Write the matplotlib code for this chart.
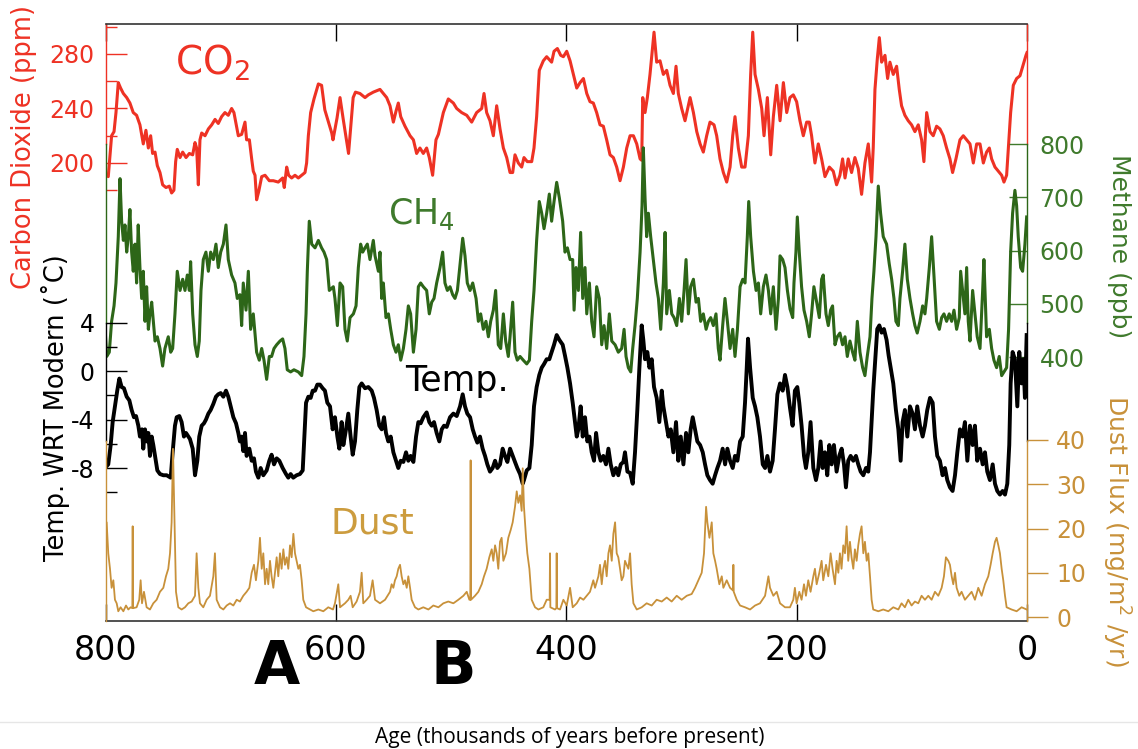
import numpy as np
import matplotlib
matplotlib.use("Agg")
import matplotlib.pyplot as plt
from matplotlib.lines import Line2D

plt.rcParams["axes.unicode_minus"] = False

# ==========================================================
# data (age in kyr before present)
# ==========================================================
co2_age = [800.5, 797.6, 794.7, 792.6, 790.9, 788.9, 786.9, 784.5, 781.6, 778.8, 775.9, 773.0, 770.1, 767.2, 764.9, 762.8,
           760.8, 759.1, 757.0, 755.0, 752.7, 750.4, 747.5, 744.6, 742.6, 740.6, 739.1, 737.7, 735.3, 733.0, 730.1, 727.2,
           724.3, 722.3, 720.9, 719.4, 718.0, 716.5, 713.6, 710.7, 707.8, 704.9, 702.1, 699.2, 696.3, 693.4, 690.5, 688.5,
           686.7, 684.7, 681.8, 678.9, 677.5, 675.1, 673.1, 671.7, 670.2, 668.8, 667.0, 664.4, 661.5, 657.8, 654.3, 650.0,
           646.2, 644.8, 642.7, 641.0, 638.4, 635.5, 632.6, 629.7, 626.8, 625.4, 623.9, 621.9, 619.0, 615.2, 612.4, 609.6,
           603.6, 602.5, 599.0, 596.4, 593.6, 589.0, 585.0, 583.0, 579.1, 574.7, 571.8, 567.5, 561.7, 558.8, 555.9, 553.0,
           550.1, 547.8, 545.8, 543.7, 540.0, 535.6, 532.7, 529.9, 527.0, 524.1, 521.2, 518.9, 516.0, 513.1, 511.0, 506.7,
           502.4, 498.0, 495.1, 490.8, 486.4, 482.1, 477.8, 473.4, 471.4, 469.1, 466.2, 463.3, 460.4, 457.5, 454.6, 451.7,
           448.8, 446.5, 444.5, 441.6, 438.7, 436.7, 433.8, 430.0, 428.0, 425.7, 423.4, 419.9, 417.0, 412.7, 410.6, 407.7,
           404.8, 402.5, 399.6, 396.7, 393.8, 390.9, 388.0, 385.1, 382.2, 379.4, 376.5, 373.6, 370.7, 367.8, 364.9, 362.0,
           359.1, 356.2, 353.3, 350.4, 347.5, 344.6, 341.7, 338.8, 335.9, 334.5, 333.6, 331.6, 329.6, 327.3, 323.8, 321.5,
           318.6, 315.7, 312.8, 309.9, 307.0, 304.7, 302.7, 299.8, 296.9, 292.5, 289.6, 286.7, 283.8, 281.0, 278.1, 275.2,
           271.7, 269.4, 266.5, 263.6, 260.7, 257.8, 255.5, 253.5, 250.6, 247.7, 244.8, 241.9, 239.9, 238.1, 236.1, 233.2,
           230.3, 228.3, 225.4, 222.5, 220.2, 217.3, 214.4, 211.5, 208.6, 205.8, 202.9, 200.0, 197.1, 194.2, 191.3, 189.0,
           187.0, 184.1, 181.2, 178.3, 175.4, 171.6, 168.2, 165.3, 162.4, 160.1, 158.0, 155.2, 152.3, 149.4, 146.5, 143.6,
           140.7, 137.8, 134.9, 133.5, 132.0, 130.0, 128.2, 126.2, 123.3, 121.0, 119.0, 116.1, 113.2, 110.9, 108.9, 106.0,
           103.1, 100.2, 97.3, 94.4, 91.5, 89.5, 87.1, 84.2, 81.4, 78.5, 75.6, 72.7, 69.8, 66.9, 64.6, 61.7,
           58.2, 55.3, 52.4, 49.5, 46.6, 43.7, 40.8, 37.9, 35.1, 32.7, 30.7, 27.8, 24.9, 22.0, 20.0, 17.7,
           16.2, 14.2, 11.9, 9.0, 6.1, 4.7, 3.2, 0.9, 0.0]
co2_ppm = [193, 190, 220, 223, 237, 259, 255, 251, 248, 244, 237, 235, 228, 214, 224, 211,
           220, 207, 208, 198, 193, 184, 182, 183, 178, 180, 201, 210, 204, 208, 204, 207,
           206, 215, 211, 184, 217, 222, 220, 225, 228, 232, 229, 234, 237, 235, 240, 237,
           229, 220, 221, 230, 217, 217, 203, 194, 191, 173, 179, 190, 191, 187, 187, 186,
           189, 182, 197, 191, 189, 191, 189, 191, 193, 200, 220, 237, 247, 258, 257, 239,
           222, 217, 233, 248, 232, 207, 248, 252, 251, 248, 250, 252, 254, 251, 248, 242,
           230, 238, 244, 234, 227, 220, 217, 207, 211, 207, 211, 204, 191, 217, 221, 237,
           247, 244, 240, 237, 235, 230, 237, 240, 251, 237, 231, 220, 242, 225, 211, 204,
           193, 193, 206, 200, 197, 204, 201, 201, 211, 234, 268, 275, 278, 274, 282, 284,
           279, 278, 282, 275, 265, 255, 259, 262, 251, 245, 244, 237, 228, 227, 217, 206,
           204, 197, 187, 197, 211, 220, 220, 214, 203, 202, 248, 237, 248, 265, 296, 274,
           275, 265, 268, 257, 251, 271, 251, 240, 231, 248, 237, 223, 214, 208, 220, 230,
           228, 220, 203, 193, 186, 197, 220, 234, 211, 197, 197, 220, 265, 296, 265, 254,
           240, 220, 248, 206, 234, 257, 231, 259, 237, 248, 250, 245, 231, 220, 230, 230,
           220, 200, 214, 203, 190, 197, 194, 184, 191, 203, 189, 203, 193, 204, 196, 177,
           200, 214, 186, 211, 254, 276, 292, 274, 279, 262, 274, 265, 271, 254, 242, 235,
           231, 228, 223, 228, 217, 201, 237, 223, 220, 227, 225, 220, 211, 203, 193, 203,
           217, 220, 217, 214, 200, 214, 214, 200, 208, 211, 203, 197, 194, 191, 186, 191,
           211, 237, 257, 262, 264, 268, 272, 279, 281]

ch4_age = [800.5, 799.0, 796.7, 794.7, 792.6, 790.9, 788.9, 787.4, 786.0, 784.5, 783.1, 781.6, 780.2, 778.8, 777.3, 775.9,
           774.4, 773.0, 771.6, 770.1, 768.6, 767.2, 765.7, 764.3, 762.8, 761.4, 759.9, 758.5, 757.0, 755.0, 752.7, 750.4,
           748.4, 745.5, 743.4, 741.7, 739.7, 737.7, 735.3, 733.0, 731.0, 729.0, 727.2, 726.1, 724.3, 722.3, 720.3, 718.6,
           717.1, 715.1, 712.8, 710.7, 708.7, 706.4, 704.1, 702.1, 700.0, 697.7, 695.4, 693.4, 690.5, 687.6, 685.6, 683.3,
           681.8, 680.4, 678.0, 676.0, 674.0, 671.7, 668.8, 666.5, 664.4, 662.4, 660.1, 657.8, 655.8, 653.7, 651.4, 648.5,
           646.2, 644.2, 642.2, 639.3, 636.4, 632.6, 629.7, 627.7, 625.9, 624.8, 623.1, 621.0, 618.1, 615.2, 612.4, 610.3,
           608.0, 605.7, 602.2, 600.8, 598.7, 596.4, 594.1, 592.1, 590.1, 587.7, 584.8, 582.5, 580.5, 578.5, 576.7, 574.7,
           572.7, 570.4, 567.5, 566.0, 563.1, 561.7, 560.2, 558.8, 556.5, 554.4, 552.4, 550.1, 547.8, 545.8, 543.7, 541.4,
           539.1, 537.1, 535.1, 532.7, 530.4, 528.4, 526.4, 524.1, 521.2, 518.9, 516.8, 514.8, 512.5, 509.6, 507.3, 505.3,
           503.2, 500.9, 498.6, 496.6, 494.5, 492.2, 489.9, 487.9, 485.9, 483.5, 481.2, 478.3, 476.3, 474.3, 472.0, 469.7,
           467.6, 465.6, 463.3, 461.3, 459.0, 456.9, 454.6, 452.6, 450.3, 448.8, 446.5, 444.5, 442.5, 440.1, 437.3, 434.3,
           432.0, 430.0, 428.0, 425.7, 423.4, 421.3, 419.3, 417.0, 414.7, 412.7, 410.6, 408.3, 406.0, 403.1, 401.1, 399.0,
           396.7, 394.4, 393.2, 391.5, 389.5, 387.5, 385.7, 383.7, 382.2, 379.9, 377.9, 375.9, 373.6, 371.3, 369.2, 367.2,
           364.9, 362.6, 360.5, 357.6, 354.8, 351.9, 349.8, 348.1, 346.1, 344.0, 342.3, 340.3, 338.3, 335.9, 334.2, 333.1,
           331.6, 330.2, 328.7, 326.7, 324.4, 322.1, 320.0, 318.0, 315.7, 314.2, 312.8, 310.5, 308.4, 306.4, 304.1, 301.8,
           299.8, 297.7, 296.0, 294.0, 292.0, 289.6, 287.3, 285.3, 283.3, 281.0, 278.6, 276.6, 274.6, 272.3, 270.0, 268.0,
           266.5, 264.2, 262.2, 260.1, 257.8, 255.5, 253.5, 251.4, 249.1, 246.8, 244.8, 242.8, 241.6, 239.9, 237.5, 235.2,
           233.2, 231.2, 228.9, 226.6, 224.5, 222.5, 220.2, 217.9, 215.8, 214.4, 212.1, 210.1, 208.0, 205.7, 203.4, 202.3,
           200.6, 199.4, 197.7, 195.7, 193.6, 191.3, 189.0, 187.0, 185.0, 182.6, 180.3, 178.3, 176.9, 174.5, 172.5, 170.5,
           168.8, 166.7, 164.7, 162.4, 160.1, 158.0, 156.0, 153.7, 151.4, 149.4, 147.3, 145.0, 142.7, 140.7, 138.7, 136.3,
           134.6, 132.9, 131.1, 129.1, 127.1, 124.8, 121.9, 119.6, 117.5, 115.5, 113.8, 111.7, 110.3, 108.0, 106.0, 103.9,
           101.6, 99.3, 97.3, 95.3, 92.9, 90.6, 88.6, 87.1, 84.8, 82.8, 80.8, 78.5, 76.1, 74.1, 72.1, 69.8,
           67.5, 65.4, 63.4, 61.1, 58.8, 57.6, 55.9, 53.9, 52.4, 51.0, 49.5, 47.2, 45.2, 43.2, 40.8, 38.5,
           37.4, 35.1, 32.7, 30.7, 28.7, 26.4, 24.1, 22.0, 20.0, 17.7, 16.0, 14.2, 12.5, 10.5, 9.0, 7.6,
           5.5, 3.8, 1.8, 0.3]
ch4_ppb = [459, 401, 409, 467, 496, 539, 626, 735, 655, 619, 648, 597, 626, 677, 597, 561,
           612, 539, 648, 568, 510, 561, 467, 532, 452, 481, 503, 467, 430, 438, 416, 383,
           416, 438, 409, 416, 481, 561, 525, 546, 525, 554, 525, 579, 481, 423, 401, 430,
           525, 583, 597, 561, 597, 583, 612, 568, 597, 612, 648, 583, 554, 539, 510, 517,
           459, 539, 488, 561, 452, 481, 409, 394, 416, 394, 358, 401, 401, 416, 423, 430,
           434, 416, 376, 372, 376, 372, 365, 401, 481, 561, 655, 612, 605, 619, 605, 597,
           583, 525, 532, 510, 459, 539, 532, 452, 430, 474, 481, 496, 568, 612, 597, 605,
           612, 583, 619, 590, 561, 597, 510, 539, 474, 481, 452, 423, 409, 423, 394, 416,
           452, 496, 481, 409, 452, 532, 539, 532, 525, 481, 503, 510, 539, 568, 597, 539,
           525, 532, 517, 510, 525, 575, 623, 590, 539, 525, 539, 510, 467, 481, 452, 467,
           438, 467, 488, 525, 423, 416, 481, 430, 401, 438, 503, 409, 394, 401, 394, 387,
           394, 467, 525, 619, 692, 670, 641, 670, 706, 655, 692, 728, 699, 655, 597, 605,
           583, 583, 488, 568, 525, 634, 510, 568, 481, 539, 467, 438, 532, 510, 423, 459,
           416, 481, 430, 423, 409, 416, 452, 401, 380, 372, 416, 459, 510, 597, 684, 793,
           699, 626, 670, 626, 583, 539, 510, 452, 539, 634, 481, 525, 481, 474, 459, 510,
           467, 525, 583, 481, 532, 546, 503, 510, 467, 481, 452, 467, 474, 459, 481, 416,
           394, 459, 510, 467, 416, 452, 401, 452, 532, 546, 539, 626, 692, 626, 561, 525,
           539, 481, 532, 554, 525, 481, 532, 452, 510, 590, 583, 568, 525, 490, 474, 539,
           597, 663, 597, 532, 488, 467, 438, 481, 532, 503, 474, 546, 554, 481, 459, 488,
           496, 423, 438, 445, 423, 438, 401, 430, 409, 394, 467, 409, 380, 365, 401, 438,
           510, 561, 626, 721, 670, 626, 612, 575, 546, 510, 467, 459, 510, 561, 612, 546,
           510, 481, 459, 445, 467, 496, 481, 510, 568, 626, 554, 467, 452, 474, 481, 467,
           481, 467, 488, 452, 474, 561, 525, 481, 568, 467, 430, 525, 481, 438, 416, 525,
           583, 438, 452, 416, 394, 380, 401, 365, 372, 380, 452, 597, 670, 713, 684, 626,
           568, 561, 612, 663]

temp_age = [800.5, 797.6, 795.5, 793.8, 791.8, 789.8, 788.0, 786.0, 784.0, 781.6, 779.3, 777.3, 775.3, 773.5, 771.5, 770.1,
            768.3, 767.2, 765.7, 764.3, 762.8, 761.4, 759.9, 758.5, 757.0, 755.0, 752.7, 749.8, 746.9, 743.4, 741.7, 739.7,
            738.2, 735.9, 733.9, 731.9, 730.1, 728.1, 726.7, 724.3, 722.3, 720.3, 718.6, 716.5, 714.5, 712.8, 710.7, 708.7,
            706.4, 704.1, 702.1, 700.0, 697.7, 695.4, 693.4, 691.3, 689.0, 686.7, 684.7, 683.3, 681.8, 680.4, 678.9, 677.5,
            675.1, 673.1, 671.1, 669.4, 667.3, 665.3, 663.0, 660.1, 657.8, 655.8, 653.7, 651.4, 649.1, 646.2, 643.3, 641.3,
            639.3, 637.0, 634.1, 631.2, 628.8, 627.7, 625.9, 623.9, 621.9, 620.1, 618.1, 616.1, 613.8, 611.5, 609.5, 607.4,
            605.1, 602.8, 600.8, 598.7, 597.0, 595.0, 593.5, 591.2, 589.2, 587.2, 585.4, 583.4, 581.4, 579.6, 577.6, 574.7,
            571.8, 568.9, 566.9, 564.6, 562.3, 560.2, 558.2, 556.5, 554.5, 552.4, 550.1, 547.8, 545.8, 543.7, 541.4, 539.1,
            537.1, 535.1, 532.7, 530.4, 528.4, 526.4, 524.1, 521.2, 518.9, 516.8, 514.8, 512.5, 510.2, 508.1, 506.1, 503.8,
            500.9, 498.0, 495.1, 492.2, 489.9, 487.9, 485.9, 483.5, 481.2, 479.2, 477.2, 474.9, 472.6, 470.5, 468.5, 466.2,
            463.9, 461.8, 459.8, 457.5, 455.2, 453.2, 451.1, 448.8, 446.5, 444.5, 442.5, 440.1, 437.8, 436.7, 434.3, 432.0,
            430.0, 428.0, 425.7, 423.4, 421.3, 419.3, 417.0, 414.7, 412.7, 410.6, 408.3, 406.0, 403.1, 401.1, 399.0, 396.7,
            394.4, 392.4, 390.9, 389.5, 387.5, 385.7, 383.7, 381.7, 379.9, 377.9, 375.9, 374.1, 372.1, 370.1, 367.8, 365.5,
            363.4, 361.4, 359.1, 356.8, 354.8, 352.7, 350.4, 349.0, 346.9, 344.6, 342.3, 340.3, 338.3, 336.5, 334.5, 333.1,
            331.6, 329.6, 327.8, 325.8, 323.8, 321.5, 319.2, 317.1, 315.7, 313.4, 311.3, 309.3, 307.0, 304.7, 302.7, 300.6,
            298.3, 296.0, 294.0, 292.0, 290.2, 288.2, 286.2, 283.8, 281.5, 279.5, 277.5, 275.2, 272.9, 270.8, 268.8, 266.5,
            264.2, 262.1, 260.1, 257.8, 255.5, 253.5, 251.4, 249.1, 246.8, 244.8, 243.3, 242.2, 240.4, 238.1, 236.1, 234.1,
            231.8, 229.4, 227.4, 225.4, 223.1, 220.8, 218.8, 216.7, 214.4, 212.1, 210.1, 208.0, 205.8, 203.5, 201.5, 199.4,
            197.7, 195.7, 193.6, 191.9, 189.9, 187.9, 185.5, 183.2, 181.2, 179.2, 177.4, 175.4, 173.4, 171.6, 169.6, 167.6,
            165.3, 163.0, 160.9, 158.9, 157.2, 155.2, 153.1, 150.8, 148.5, 146.5, 144.4, 142.1, 139.8, 137.8, 136.3, 134.9,
            133.5, 131.7, 130.0, 128.2, 126.2, 124.2, 121.9, 120.1, 118.4, 116.1, 113.8, 111.7, 109.7, 108.0, 106.0, 103.9,
            101.6, 99.3, 97.3, 95.3, 92.9, 90.6, 88.6, 86.6, 84.2, 81.9, 79.9, 77.9, 75.6, 73.3, 71.2, 69.2,
            66.9, 64.6, 62.5, 60.5, 58.2, 55.9, 53.9, 51.8, 49.5, 47.2, 45.2, 43.2, 40.8, 38.5, 36.5, 34.5,
            32.2, 29.8, 27.8, 25.8, 23.5, 21.2, 19.1, 17.1, 15.4, 14.2, 12.5, 10.5, 8.4, 6.7, 4.7, 3.2,
            1.8, 0.3]
temp_c = [-8.0, -7.7, -6.1, -4.2, -2.9, -1.6, -0.6, -1.3, -1.4, -2.1, -2.4, -3.2, -3.8, -3.7, -4.5, -5.4,
          -4.8, -6.4, -4.8, -5.8, -5.1, -7.0, -5.4, -6.1, -7.0, -8.2, -8.5, -8.6, -8.6, -8.8, -6.7, -4.5,
          -3.8, -3.7, -4.2, -5.4, -5.1, -5.4, -5.6, -6.4, -8.6, -7.4, -5.4, -4.5, -4.3, -4.0, -3.5, -3.2,
          -2.7, -2.1, -1.9, -1.8, -2.1, -1.6, -2.1, -2.9, -3.8, -4.3, -5.1, -5.8, -5.4, -6.6, -5.1, -7.0,
          -6.4, -7.4, -7.2, -8.3, -8.8, -8.0, -8.6, -8.2, -7.4, -6.9, -7.7, -7.2, -7.4, -8.0, -8.5, -8.8,
          -8.5, -8.8, -8.6, -8.5, -8.2, -6.1, -2.6, -2.1, -2.2, -1.6, -1.6, -1.1, -1.1, -1.4, -1.6, -2.6,
          -2.9, -4.8, -3.8, -5.4, -6.4, -4.2, -6.1, -4.8, -3.5, -5.4, -6.9, -5.8, -3.2, -1.3, -1.0, -1.4,
          -1.3, -1.6, -2.2, -3.2, -4.5, -4.8, -3.8, -5.1, -5.8, -5.4, -6.7, -7.4, -8.0, -7.4, -7.5, -6.7,
          -7.4, -7.0, -7.5, -5.4, -4.2, -4.3, -3.8, -3.4, -4.2, -4.5, -4.2, -5.1, -5.8, -4.8, -4.5, -4.6,
          -3.8, -3.5, -3.7, -2.9, -1.9, -2.9, -3.5, -3.8, -4.8, -5.4, -5.9, -5.4, -6.4, -7.0, -7.7, -8.3,
          -8.0, -7.4, -8.0, -7.7, -6.4, -7.0, -7.5, -6.4, -7.0, -7.5, -8.0, -8.5, -9.3, -9.0, -8.2, -8.0,
          -6.1, -2.9, -1.3, -0.3, 0.3, 0.6, 1.0, 1.0, 1.6, 2.2, 3.0, 2.6, 2.2, 1.3, 0.3, -1.0,
          -2.6, -4.2, -5.4, -4.8, -2.9, -5.4, -3.8, -5.8, -5.4, -6.7, -7.4, -5.1, -6.7, -7.4, -7.0, -7.7,
          -6.4, -7.7, -8.6, -8.0, -8.6, -7.7, -7.5, -6.7, -8.3, -8.4, -9.3, -6.7, -3.2, 0.3, 3.8, 2.6,
          1.0, 1.6, 0.3, 1.0, -1.3, -2.2, -4.2, -1.6, -2.9, -4.2, -5.4, -4.8, -6.7, -4.2, -7.4, -5.4,
          -7.7, -5.1, -6.7, -4.8, -3.8, -4.8, -5.8, -6.1, -6.7, -7.7, -8.6, -9.0, -9.3, -8.6, -8.0, -7.4,
          -6.4, -7.7, -6.4, -7.4, -8.0, -7.0, -7.4, -5.8, -5.4, -2.6, 0.3, 2.7, 0.3, -2.2, -2.9, -3.8,
          -5.4, -7.7, -8.0, -7.0, -8.3, -7.4, -4.8, -1.9, -1.0, -1.6, -0.3, -1.3, -3.0, -4.5, -1.6, -1.3,
          -2.6, -4.5, -7.0, -8.0, -6.7, -4.2, -8.0, -9.0, -8.0, -5.8, -8.0, -6.7, -8.6, -6.1, -7.7, -6.1,
          -8.3, -7.0, -6.4, -7.7, -9.6, -7.4, -7.0, -7.4, -7.0, -7.7, -8.3, -8.6, -8.0, -8.3, -6.7, -4.2,
          -1.6, 1.0, 3.5, 3.8, 3.2, 3.5, 2.6, 1.3, 0.3, -1.0, -3.2, -4.8, -7.4, -4.2, -3.2, -5.4,
          -2.9, -3.5, -4.8, -2.9, -4.5, -5.4, -4.5, -3.2, -2.2, -2.6, -5.4, -7.0, -7.4, -8.6, -8.0, -9.0,
          -9.6, -9.9, -8.6, -6.7, -4.8, -5.4, -4.2, -7.4, -4.5, -6.1, -4.5, -7.4, -6.4, -7.7, -6.7, -8.3,
          -9.0, -7.7, -9.3, -9.9, -10.2, -9.9, -10.2, -9.3, -6.1, -1.0, 1.6, 1.0, -2.9, 1.6, -1.0, 1.0,
          -2.2, 3.0]

dust_age = [800.5, 799.0, 797.6, 796.1, 794.7, 793.2, 791.8, 790.3, 788.9, 786.9, 784.5, 782.2, 780.2, 778.2, 776.7, 776.4,
            776.1, 773.0, 770.7, 769.5, 768.3, 766.6, 764.3, 761.4, 758.5, 755.6, 752.7, 749.8, 747.5, 745.5, 744.0, 742.6,
            741.4, 740.3, 738.8, 736.8, 733.9, 731.0, 728.1, 725.2, 722.3, 720.9, 719.4, 718.0, 715.1, 712.2, 709.3, 706.4,
            705.0, 703.5, 700.6, 697.7, 694.8, 691.9, 689.0, 686.1, 683.3, 680.4, 677.5, 675.1, 673.1, 671.1, 669.4, 667.3,
            665.9, 664.4, 663.0, 661.5, 660.1, 658.7, 657.2, 655.8, 654.3, 652.9, 651.4, 650.0, 648.5, 647.1, 645.6, 644.2,
            642.7, 641.3, 639.8, 638.4, 636.9, 635.5, 634.1, 632.6, 631.2, 629.7, 628.3, 625.9, 622.5, 619.6, 615.2, 610.9,
            606.6, 602.5, 600.8, 597.9, 596.4, 592.1, 589.2, 587.2, 585.4, 582.0, 579.1, 577.6, 576.2, 573.3, 570.4, 568.1,
            566.0, 561.7, 557.3, 553.0, 551.6, 550.1, 548.7, 547.2, 545.8, 544.3, 542.9, 541.4, 540.0, 538.5, 537.1, 535.6,
            534.2, 531.3, 528.4, 524.1, 519.7, 515.4, 511.0, 506.7, 502.4, 498.0, 493.7, 489.3, 486.4, 484.1, 483.3, 483.0,
            482.7, 479.2, 476.3, 473.4, 471.4, 469.1, 466.8, 464.7, 463.3, 461.8, 460.4, 459.0, 457.5, 456.1, 454.6, 452.3,
            450.3, 448.2, 446.5, 444.5, 443.0, 441.6, 440.1, 438.7, 437.8, 436.7, 434.9, 433.8, 432.0, 430.0, 427.1, 424.2,
            419.9, 417.0, 414.4, 414.1, 413.8, 409.8, 408.6, 408.3, 408.0, 405.4, 402.5, 399.6, 396.7, 394.4, 390.9, 388.0,
            385.1, 382.2, 379.4, 376.5, 375.0, 372.1, 370.7, 369.2, 367.8, 366.3, 364.9, 363.4, 362.0, 360.5, 359.1, 357.6,
            356.2, 354.8, 353.3, 351.9, 350.4, 349.0, 347.5, 346.1, 344.6, 343.2, 341.7, 338.8, 334.5, 330.2, 325.8, 321.5,
            317.1, 312.8, 308.5, 304.1, 299.8, 295.4, 291.1, 288.2, 285.3, 282.4, 280.4, 278.6, 277.5, 275.7, 273.7, 272.3,
            270.8, 269.4, 267.1, 265.0, 263.6, 260.7, 257.8, 255.2, 254.9, 254.6, 252.0, 249.1, 244.8, 240.4, 236.1, 231.8,
            227.4, 224.5, 223.1, 220.2, 217.3, 214.4, 210.1, 205.8, 202.9, 201.5, 200.0, 197.7, 195.7, 193.6, 191.9, 189.9,
            187.9, 185.5, 184.1, 182.6, 180.3, 178.3, 176.9, 174.5, 172.5, 170.5, 168.8, 166.7, 165.3, 163.8, 162.4, 161.0,
            159.5, 158.0, 156.6, 155.2, 153.7, 152.3, 150.8, 149.4, 147.9, 146.5, 145.0, 143.6, 142.1, 140.7, 139.2, 137.8,
            136.3, 134.9, 133.5, 129.1, 124.8, 120.4, 116.1, 111.7, 108.9, 106.0, 103.1, 100.2, 97.3, 94.4, 91.5, 88.6,
            85.7, 82.8, 79.9, 77.0, 74.1, 72.1, 70.4, 68.3, 66.9, 65.4, 64.0, 62.5, 61.1, 58.8, 56.8, 53.9,
            51.0, 48.1, 45.2, 42.3, 39.4, 36.5, 33.6, 31.6, 29.8, 27.8, 26.4, 24.9, 23.5, 22.0, 20.6, 19.1,
            17.7, 13.4, 9.0, 4.7, 0.3]
dust_flux = [20.5, 21.4, 14.4, 10.9, 6.6, 8.3, 3.9, 3.1, 1.3, 2.2, 1.3, 2.6, 1.7, 2.2, 2.0, 20.5,
             2.0, 2.2, 3.9, 8.3, 3.1, 5.7, 2.2, 1.7, 3.1, 3.9, 5.7, 6.6, 9.2, 10.9, 14.4, 21.4,
             38.0, 24.0, 5.7, 2.2, 1.7, 2.2, 3.1, 3.5, 4.8, 14.4, 6.6, 3.1, 2.2, 3.9, 4.8, 9.2,
             14.4, 3.9, 2.2, 1.7, 2.6, 3.1, 2.6, 3.9, 3.5, 4.8, 5.7, 6.6, 10.0, 11.8, 8.3, 12.7,
             17.9, 10.9, 14.4, 7.4, 10.9, 7.4, 12.7, 9.2, 6.6, 10.0, 13.5, 9.2, 14.4, 10.9, 15.3, 11.8,
             13.5, 10.9, 16.2, 13.5, 18.8, 14.4, 12.7, 10.9, 11.8, 8.3, 3.9, 2.2, 1.7, 1.3, 1.7, 1.3,
             2.2, 1.7, 3.1, 7.4, 2.2, 3.1, 3.9, 4.8, 2.2, 3.5, 5.7, 10.0, 3.1, 3.9, 4.8, 8.3,
             3.9, 3.1, 3.9, 5.7, 7.4, 6.6, 8.3, 9.2, 10.9, 11.8, 9.2, 7.4, 8.3, 6.6, 9.2, 6.6,
             3.9, 2.2, 1.7, 2.2, 1.7, 2.6, 2.2, 3.1, 3.5, 3.1, 3.9, 4.8, 5.7, 3.9, 3.9, 35.4,
             3.9, 4.8, 5.7, 7.4, 9.2, 10.9, 13.5, 15.3, 12.7, 16.2, 14.4, 10.9, 17.0, 17.9, 12.7, 14.4,
             17.9, 19.7, 21.4, 24.9, 28.4, 25.8, 27.5, 24.0, 33.6, 24.9, 17.9, 14.4, 10.9, 3.9, 2.2, 1.7,
             2.2, 3.9, 3.9, 14.4, 2.2, 1.7, 2.0, 14.4, 2.0, 1.7, 3.9, 2.6, 6.6, 2.2, 3.1, 4.4,
             3.9, 4.8, 5.7, 8.3, 6.6, 9.2, 11.8, 7.4, 10.9, 12.7, 9.2, 14.4, 16.2, 12.7, 18.8, 21.4,
             14.4, 13.5, 10.9, 8.3, 9.2, 12.7, 11.8, 10.9, 14.4, 7.4, 3.1, 1.7, 2.2, 3.1, 2.6, 3.9,
             3.5, 4.4, 3.5, 4.8, 3.9, 4.8, 5.2, 6.6, 8.3, 10.0, 14.4, 24.9, 21.4, 17.9, 21.4, 14.4,
             12.7, 10.9, 7.4, 9.2, 6.6, 8.3, 6.6, 6.0, 11.8, 5.7, 3.9, 2.6, 2.2, 1.7, 2.6, 3.1,
             4.8, 9.2, 6.6, 4.8, 5.7, 3.1, 2.2, 2.2, 3.9, 6.6, 3.1, 5.7, 3.9, 7.4, 4.8, 8.3,
             5.7, 9.2, 10.9, 7.4, 10.0, 12.7, 8.3, 11.8, 9.2, 14.4, 10.9, 7.4, 12.7, 10.0, 14.4, 10.9,
             16.2, 14.4, 20.5, 12.7, 17.0, 13.5, 10.9, 15.3, 12.7, 16.2, 18.8, 20.5, 14.4, 17.0, 12.7, 14.4,
             9.2, 3.9, 1.7, 1.3, 1.7, 1.3, 2.2, 1.7, 3.1, 2.2, 3.9, 2.6, 3.5, 3.1, 4.8, 3.9,
             4.8, 3.9, 5.7, 4.8, 6.6, 9.2, 13.5, 12.7, 11.8, 9.2, 7.4, 10.0, 6.6, 4.8, 5.7, 3.9,
             4.8, 5.7, 3.9, 6.6, 4.8, 7.4, 9.2, 11.8, 14.4, 17.0, 17.9, 16.2, 14.4, 10.9, 8.3, 4.8,
             2.2, 1.7, 1.3, 2.2, 1.7]

x_ticks = [800, 600, 400, 200, 0]
co2_ticks = [200, 240, 280]
ch4_ticks = [400, 500, 600, 700, 800]
temp_ticks = [-8, -4, 0, 4]
dust_ticks = [0, 10, 20, 30, 40]

RED = "#ee3224"
GREEN = "#2d6618"
GREEN_TXT = "#3f7a2c"
DUST = "#c8913a"

W, H = 1138, 749


def fx(px):
    return px / W


def fy(py):
    return 1 - py / H


# ==========================================================
# figure / stacked axes
# ==========================================================
fig = plt.figure(figsize=(W / 100, H / 100), dpi=100)
ax = fig.add_axes([fx(105.5), fy(621), fx(1027) - fx(105.5), fy(24) - fy(621)])
ax_ch4 = ax.twinx()
ax_t = ax.twinx()
ax_d = ax.twinx()

ax.plot(co2_age, co2_ppm, color=RED, lw=2.2, solid_joinstyle="round")
ax_ch4.plot(ch4_age, ch4_ppb, color=GREEN, lw=2.2, solid_joinstyle="round")
ax_t.plot(temp_age, temp_c, color="black", lw=2.8, solid_joinstyle="round")
ax_d.plot(dust_age, dust_flux, color=DUST, lw=1.3)

ax.set_xlim(800, 0)
ax.set_ylim(-136.1, 302.0)
ax_ch4.set_ylim(-95.8, 1025.4)
ax_t.set_ylim(-20.66, 28.74)
ax_d.set_ylim(-0.9, 134.0)

# x axis: inward ticks top and bottom
ax.set_xticks(x_ticks)
ax.set_xticklabels([str(t) for t in x_ticks], fontsize=24)
ax.tick_params(axis="x", which="both", direction="in", top=True, bottom=True,
               length=12, width=1, pad=9)

# CO2 (left, red)
ax.set_yticks(co2_ticks)
ax.set_yticks([180, 220, 260, 300], minor=True)
ax.tick_params(axis="y", which="major", direction="in", length=15, width=1,
               colors=RED, labelsize=17, pad=8, left=True, right=False)
ax.tick_params(axis="y", which="minor", direction="in", length=8, width=1,
               colors=RED, left=True, right=False)

# CH4 (right, green)
ax_ch4.set_yticks(ch4_ticks)
ax_ch4.tick_params(axis="y", direction="in", length=13, width=1, colors=GREEN_TXT,
                   labelsize=17, pad=9)

# temperature (left, black)
ax_t.yaxis.tick_left()
ax_t.set_yticks(temp_ticks)
ax_t.set_yticklabels([str(t) for t in temp_ticks])
ax_t.set_yticks([-10, -6, -2, 2], minor=True)
ax_t.tick_params(axis="y", which="major", direction="in", length=15, width=1,
                 colors="black", labelsize=17, pad=8)
ax_t.tick_params(axis="y", which="minor", direction="in", length=8, width=1, colors="black")

# dust (right, outward ticks)
ax_d.set_yticks(dust_ticks)
ax_d.tick_params(axis="y", direction="out", length=15, width=1, colors=DUST,
                 labelsize=17, pad=6)

# spines: each series owns a band of the left/right frame
bands = [(ax, RED, (214, 302)), (ax_ch4, GREEN, (464, 800)),
         (ax_t, "black", (-5.8, 4)), (ax_d, DUST, (-0.9, 39.8))]
for a, c, b in bands:
    for side in ("left", "right"):
        a.spines[side].set_visible(True)
        a.spines[side].set_color(c)
        a.spines[side].set_bounds(*b)
        a.spines[side].set_linewidth(1.0)
    if a is not ax:
        a.spines["top"].set_visible(False)
        a.spines["bottom"].set_visible(False)
for side in ("top", "bottom"):
    ax.spines[side].set_color("#333333")
    ax.spines[side].set_linewidth(1.2)

# ==========================================================
# labels
# ==========================================================
fig.text(fx(24), fy(147), "Carbon Dioxide (ppm)", rotation=90, color=RED,
         fontsize=18.5, ha="center", va="center")
fig.text(fx(55), fy(408), "Temp. WRT Modern (˚C)", rotation=90, color="black",
         fontsize=18.5, ha="center", va="center")
fig.text(fx(1119), fy(246), "Methane (ppb)", rotation=270, color=GREEN_TXT,
         fontsize=18, ha="center", va="center")
fig.text(fx(1116), fy(531), "Dust Flux (mg/m$^{2}$ /yr)", rotation=270, color=DUST,
         fontsize=18, ha="center", va="center")

fig.text(fx(175), fy(63), "CO$_2$", color=RED, fontsize=28, ha="left", va="center")
fig.text(fx(388), fy(214), "CH$_4$", color=GREEN_TXT, fontsize=25, ha="left", va="center")
fig.text(fx(405), fy(381), "Temp.", color="black", fontsize=25, ha="left", va="center")
fig.text(fx(330), fy(524), "Dust", color="#cc9c3e", fontsize=26, ha="left", va="center")

fig.text(fx(277), fy(667), "A", fontsize=43, fontweight="bold", ha="center", va="center")
fig.text(fx(453), fy(667), "B", fontsize=43, fontweight="bold", ha="center", va="center")

fig.add_artist(Line2D([0, 1], [fy(722), fy(722)], transform=fig.transFigure,
                      color="#e6e6e6", lw=1))
fig.text(fx(570), fy(738), "Age (thousands of years before present)",
         family="Open Sans", fontsize=15, ha="center", va="center")

fig.savefig("out.png", dpi=100)
